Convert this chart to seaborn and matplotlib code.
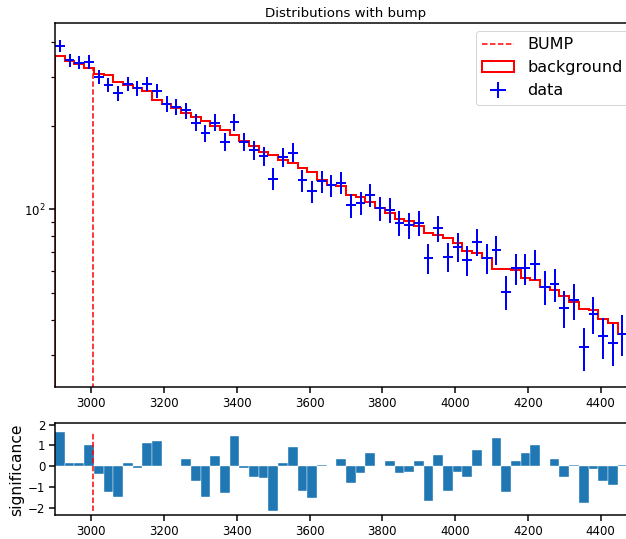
import numpy as np
import pandas as pd
import matplotlib
matplotlib.use('Agg')
import matplotlib.pyplot as plt
import seaborn as sns

# binning: 59 visible bins of width 80/3 starting at 2900
bin_width = 80 / 3
bin_edges = 2900 + bin_width * np.arange(60)
bin_centers = bin_edges[:-1] + bin_width / 2

# background expectation per bin
background = [356, 341, 334, 321, 306, 303, 287, 281, 273, 266,
              248, 239, 232, 222, 215, 208, 199, 193, 185, 176,
              169, 161, 157, 151, 147, 141, 136, 127, 122, 121,
              112.5, 110.4, 106.5, 101.3, 97.2, 92.1, 91.0, 87.1, 82.4, 80.9,
              78.7, 75.5, 71.0, 69.9, 67.0, 60.9, 61.2, 60.5, 56.5, 55.7,
              52.7, 51.3, 48.6, 46.6, 43.8, 43.5, 40.3, 39.0, 35.5]

# observed counts per bin (blue crosses)
data = [387, 343, 337, 339, 299, 281, 261, 283, 272, 283,
        267, 240, 233, 227, 205, 188, 205, 175, 206, 175,
        163, 155, 129, 154, 160, 127, 116, 126, 122, 124.6,
        103.6, 105.6, 112.5, 100.8, 99.4, 89.5, 87.8, 89.5, 66.7, 85.5,
        67.6, 73.4, 65.8, 76.5, 66.7, 71.4, 50.6, 61.4, 61.4, 63.6,
        52.7, 53.8, 44.1, 47.0, 31.9, 42.0, 34.9, 33.0, 35.7]

# significance per bin (bottom panel)
significance = [1.66, 0.14, 0.17, 1.02, -0.39, -1.23, -1.47, 0.17, -0.10, 1.10,
                1.20, 0.0, 0.0, 0.36, -0.71, -1.50, 0.48, -1.29, 1.44, -0.10,
                -0.52, -0.58, -2.14, 0.17, 0.91, -1.20, -1.55, 0.05, 0.0, 0.35,
                -0.79, -0.34, 0.62, 0.0, 0.25, -0.34, -0.30, 0.27, -1.68, 0.52,
                -1.18, -0.27, -0.50, 0.78, 0.0, 1.36, -1.26, 0.25, 0.65, 1.02,
                0.0, 0.35, -0.54, 0.07, -1.76, -0.12, -0.73, -0.89, 0.04]

bump_x = 3005

sns.set_style('ticks')
plt.rcParams['font.family'] = ['DejaVu Sans']
plt.rcParams.update({
    'xtick.labelsize': 11.8, 'ytick.labelsize': 11.8,
    'xtick.major.size': 6, 'ytick.major.size': 6,
    'xtick.minor.size': 4, 'ytick.minor.size': 4,
    'xtick.major.width': 1.5, 'ytick.major.width': 1.5,
    'xtick.minor.width': 1.2, 'ytick.minor.width': 1.2,
    'axes.linewidth': 1.5,
    'axes.edgecolor': 'black', 'xtick.color': 'black', 'ytick.color': 'black',
    'text.color': 'black', 'axes.labelcolor': 'black',
})

fig = plt.figure(figsize=(626 / 72, 539 / 72), dpi=72)
ax1 = fig.add_axes([0.0879, 0.282, 0.9297, 0.6753])
ax2 = fig.add_axes([0.0879, 0.044, 0.9297, 0.1707], sharex=ax1)

data_arr = np.array(data)
bump_bin = np.searchsorted(bin_edges, bump_x) - 1

# top panel: distributions
ax1.vlines(bump_x, 1, background[bump_bin], colors='red', linestyles='dashed',
           linewidth=1.5, label='BUMP')
ax1.hist(bin_centers, bins=bin_edges, weights=background, histtype='step',
         color='red', linewidth=2, label='background')
ax1.errorbar(bin_centers, data_arr, xerr=bin_width / 2, yerr=np.sqrt(data_arr),
             fmt='none', ecolor='blue', elinewidth=2, label='data')
ax1.set_yscale('log')
ax1.set_ylim(22.96, 467.6)
ax1.set_xlim(2900, 4500)
ax1.set_title('Distributions with bump', fontsize=13.4)
ax1.legend(loc='upper right', fontsize=16)
ax1.tick_params(labelbottom=True)

# bottom panel: significance
sig_df = pd.DataFrame({'center': bin_centers, 'significance': significance})
sns.histplot(data=sig_df, x='center', weights='significance',
             bins=list(bin_edges), ax=ax2, color='#1f77b4', alpha=1,
             edgecolor='white', linewidth=0.4)
ax2.vlines(bump_x, min(significance), max(significance), colors='red',
           linestyles='dashed', linewidth=1.5)
ax2.set_ylim(-2.366, 2.067)
ax2.set_yticks([-2, -1, 0, 1, 2])
ax2.set_ylabel('significance', fontsize=15.5)
ax2.set_xlabel('')

fig.savefig('out.png', dpi=72)
